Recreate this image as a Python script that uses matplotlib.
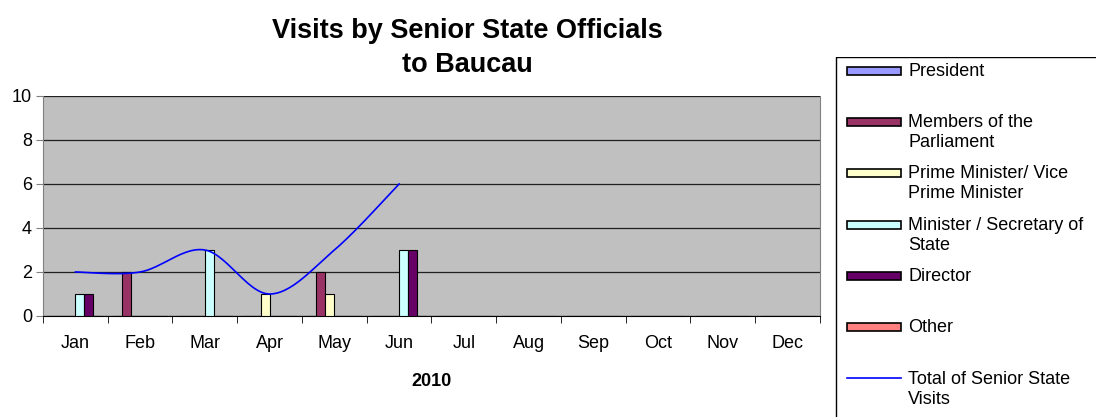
import matplotlib
matplotlib.use('Agg')
import matplotlib.pyplot as plt
import matplotlib.patches as patches
import numpy as np

plt.rcParams['font.family'] = ['Liberation Sans', 'DejaVu Sans']

months = ['Jan', 'Feb', 'Mar', 'Apr', 'May', 'Jun',
          'Jul', 'Aug', 'Sep', 'Oct', 'Nov', 'Dec']
series_names = ['President', 'Members of the\nParliament',
                'Prime Minister/ Vice\nPrime Minister',
                'Minister / Secretary of\nState', 'Director', 'Other']
president = [0, 0, 0, 0, 0, 0, 0, 0, 0, 0, 0, 0]
parliament = [0, 2, 0, 0, 2, 0, 0, 0, 0, 0, 0, 0]
prime_minister = [0, 0, 0, 1, 1, 0, 0, 0, 0, 0, 0, 0]
minister = [1, 0, 3, 0, 0, 3, 0, 0, 0, 0, 0, 0]
director = [1, 0, 0, 0, 0, 3, 0, 0, 0, 0, 0, 0]
other = [0, 0, 0, 0, 0, 0, 0, 0, 0, 0, 0, 0]
total = [2, 2, 3, 1, 3, 6]
total_label = 'Total of Senior State\nVisits'

colors = ['#9999FF', '#993366', '#FFFFCC', '#CCFFFF', '#660066', '#FF8080']
all_series = [president, parliament, prime_minister, minister, director, other]


def smooth(xs, ys, n=30):
    # catmull-rom style smoothing like Excel's smoothed line
    pts = np.column_stack([xs, ys]).astype(float)
    p = np.vstack([pts[0], pts, pts[-1]])
    out = []
    for i in range(1, len(p) - 2):
        p0, p1, p2, p3 = p[i - 1], p[i], p[i + 1], p[i + 2]
        c1 = p1 + (p2 - p0) / 6
        c2 = p2 - (p3 - p1) / 6
        t = np.linspace(0, 1, n)[:, None]
        seg = ((1 - t) ** 3) * p1 + 3 * ((1 - t) ** 2) * t * c1 + 3 * (1 - t) * t ** 2 * c2 + t ** 3 * p2
        out.append(seg)
    out = np.vstack(out)
    return out[:, 0], out[:, 1]


fig = plt.figure(figsize=(10.96, 4.17), dpi=100)
ax = fig.add_axes([43 / 1096, 1 - 316 / 417, 777 / 1096, 220 / 417])
ax.set_facecolor('#C0C0C0')

x = np.arange(len(months))
w = 0.139
for i, (vals, col) in enumerate(zip(all_series, colors)):
    ax.bar(x + (i - 3) * w, vals, width=w, align='edge', color=col,
           edgecolor='black', linewidth=0.8, zorder=3)

sx, sy = smooth(np.arange(len(total)), total)
ax.plot(sx, sy, color='#0000FF', linewidth=1.2, zorder=4)

ax.set_xlim(-0.5, 11.5)
ax.set_ylim(0, 10)
ax.set_yticks(range(0, 11, 2))
ax.yaxis.grid(True, color='#202020', linewidth=0.9, zorder=1)
ax.set_axisbelow(True)
ax.set_xticks(x)
ax.set_xticklabels(months, fontsize=13)
ax.set_xticks(np.arange(-0.5, 12, 1), minor=True)
ax.tick_params(axis='x', which='major', length=0, pad=14)
ax.tick_params(axis='x', which='minor', length=5, direction='out', color='black')
ax.tick_params(axis='y', length=5, direction='out', labelsize=13, pad=3, color='#808080')
for s in ['left', 'right', 'top']:
    ax.spines[s].set_color('#808080')
ax.spines['bottom'].set_color('black')
ax.spines['top'].set_visible(False)

ax.set_xlabel('2010', fontsize=13, fontweight='bold', labelpad=15)
fig.text(467 / 1096, 1 - 48 / 417, 'Visits by Senior State Officials\nto Baucau',
         ha='center', va='center', fontsize=19.5, fontweight='bold', linespacing=1.35)

# legend box drawn by hand so handles sit on the first text line
lg = fig.add_axes([835 / 1096, 0, 1 - 835 / 1096, 1 - 57 / 417])
lg.set_xlim(835, 1096)
lg.set_ylim(417, 57)
lg.axis('off')
lg.add_patch(patches.Rectangle((835.5, 57.5), 300, 400, fill=False,
                               edgecolor='black', linewidth=1))
row_y = [71, 122, 173, 225, 276, 327]
for name, col, yy in zip(series_names, colors, row_y):
    lg.add_patch(patches.Rectangle((847, yy - 4), 54, 8, facecolor=col,
                                   edgecolor='black', linewidth=1.2))
    lg.text(908, yy - 8, name, ha='left', va='top', fontsize=13, linespacing=1.2)
lg.plot([847, 901], [378, 378], color='#0000FF', linewidth=1.2)
lg.text(908, 371, total_label, ha='left', va='top', fontsize=13, linespacing=1.2)

fig.savefig('out.png', dpi=100, facecolor='white')
